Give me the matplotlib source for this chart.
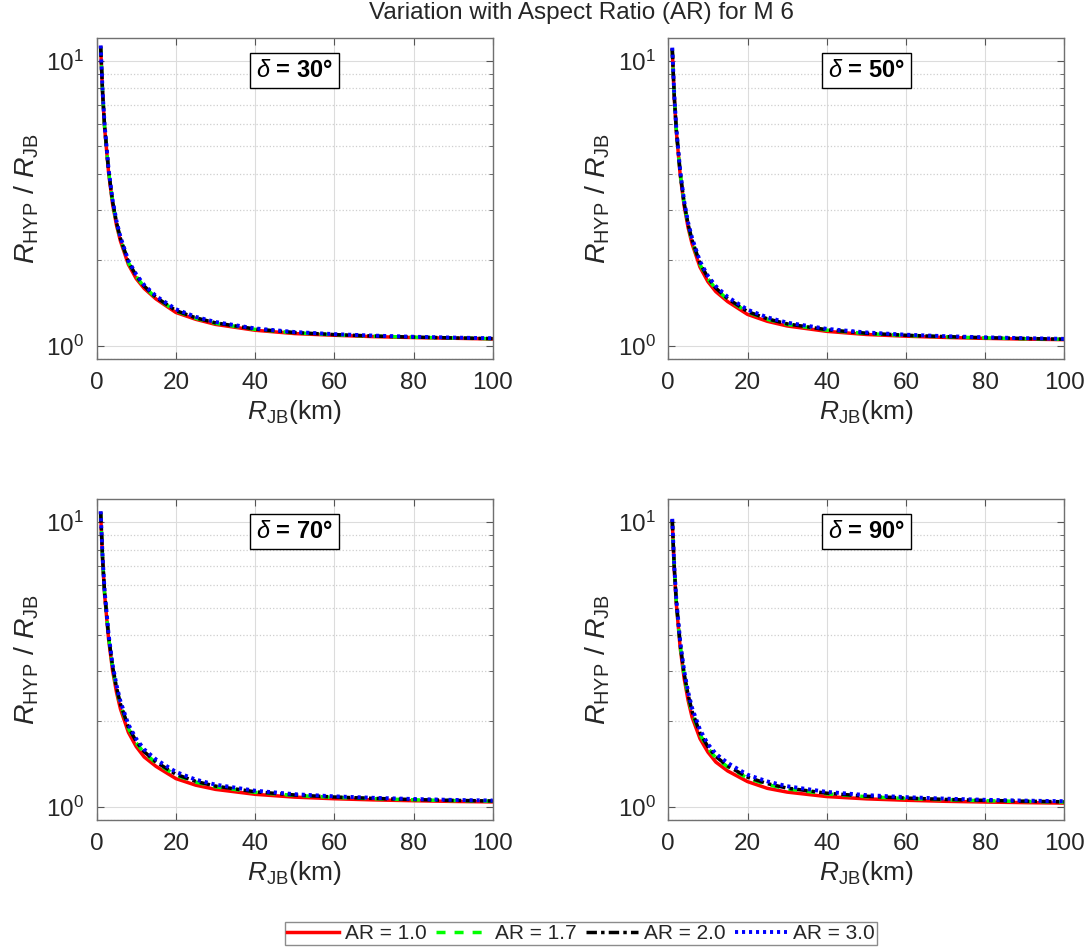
import matplotlib
matplotlib.use("Agg")
import matplotlib.pyplot as plt
from matplotlib.ticker import LogLocator, NullFormatter

plt.rcParams['font.family'] = ['Liberation Sans', 'DejaVu Sans']
plt.rcParams['mathtext.fontset'] = 'custom'
plt.rcParams['mathtext.rm'] = 'Liberation Sans'
plt.rcParams['mathtext.it'] = 'Liberation Sans:italic'
plt.rcParams['mathtext.bf'] = 'Liberation Sans:bold'

# Joyner-Boore distance (km)
rjb = [1, 1.5, 2, 3, 4, 5, 6, 8, 10, 12, 15, 20, 25, 30, 40, 50, 60, 70, 80, 90, 100]

dips = [30, 50, 70, 90]
ar_labels = ['AR = 1.0', 'AR = 1.7', 'AR = 2.0', 'AR = 3.0']

# R_HYP / R_JB, one list per aspect ratio
d30_ar10 = [11.1, 7.6, 5.8, 4.05, 3.15, 2.65, 2.33, 1.93, 1.72, 1.59, 1.46, 1.31, 1.24, 1.19, 1.135, 1.105, 1.09, 1.078, 1.07, 1.064, 1.058]
d30_ar17 = [11.15, 7.65, 5.85, 4.1, 3.2, 2.69, 2.37, 1.96, 1.75, 1.61, 1.475, 1.325, 1.25, 1.2, 1.143, 1.112, 1.094, 1.082, 1.073, 1.066, 1.06]
d30_ar20 = [11.2, 7.7, 5.9, 4.12, 3.22, 2.71, 2.38, 1.97, 1.76, 1.62, 1.48, 1.33, 1.255, 1.205, 1.146, 1.114, 1.096, 1.083, 1.074, 1.067, 1.061]
d30_ar30 = [11.3, 7.75, 5.95, 4.16, 3.26, 2.74, 2.41, 1.99, 1.78, 1.635, 1.495, 1.345, 1.265, 1.213, 1.152, 1.119, 1.1, 1.087, 1.077, 1.07, 1.064]

d50_ar10 = [10.9, 7.45, 5.7, 3.98, 3.1, 2.6, 2.28, 1.89, 1.68, 1.55, 1.43, 1.29, 1.22, 1.175, 1.125, 1.097, 1.082, 1.071, 1.063, 1.057, 1.052]
d50_ar17 = [10.95, 7.5, 5.76, 4.03, 3.15, 2.65, 2.33, 1.93, 1.72, 1.585, 1.455, 1.315, 1.24, 1.19, 1.136, 1.105, 1.088, 1.076, 1.067, 1.06, 1.055]
d50_ar20 = [11.0, 7.55, 5.8, 4.06, 3.17, 2.67, 2.35, 1.95, 1.735, 1.595, 1.465, 1.32, 1.245, 1.195, 1.14, 1.108, 1.09, 1.078, 1.069, 1.062, 1.056]
d50_ar30 = [11.1, 7.62, 5.86, 4.11, 3.22, 2.71, 2.39, 1.98, 1.76, 1.62, 1.485, 1.34, 1.26, 1.207, 1.148, 1.115, 1.095, 1.082, 1.072, 1.065, 1.059]

d70_ar10 = [10.7, 7.3, 5.55, 3.88, 3.02, 2.53, 2.21, 1.83, 1.63, 1.5, 1.39, 1.26, 1.195, 1.155, 1.11, 1.085, 1.071, 1.061, 1.054, 1.048, 1.044]
d70_ar17 = [10.75, 7.36, 5.62, 3.95, 3.09, 2.6, 2.28, 1.89, 1.68, 1.55, 1.43, 1.295, 1.225, 1.18, 1.128, 1.1, 1.083, 1.071, 1.062, 1.055, 1.05]
d70_ar20 = [10.8, 7.4, 5.66, 3.98, 3.12, 2.63, 2.3, 1.91, 1.7, 1.565, 1.44, 1.305, 1.232, 1.186, 1.133, 1.104, 1.086, 1.074, 1.064, 1.057, 1.052]
d70_ar30 = [10.9, 7.48, 5.73, 4.04, 3.17, 2.68, 2.35, 1.95, 1.735, 1.595, 1.47, 1.33, 1.25, 1.2, 1.143, 1.111, 1.092, 1.079, 1.069, 1.061, 1.056]

d90_ar10 = [10.05, 6.85, 5.2, 3.62, 2.83, 2.37, 2.07, 1.74, 1.56, 1.44, 1.34, 1.23, 1.165, 1.13, 1.09, 1.07, 1.058, 1.049, 1.043, 1.038, 1.034]
d90_ar17 = [10.1, 6.92, 5.28, 3.7, 2.9, 2.44, 2.14, 1.8, 1.61, 1.49, 1.385, 1.265, 1.2, 1.16, 1.114, 1.089, 1.073, 1.062, 1.054, 1.048, 1.043]
d90_ar20 = [10.15, 6.96, 5.32, 3.74, 2.94, 2.48, 2.17, 1.82, 1.63, 1.505, 1.395, 1.275, 1.21, 1.167, 1.12, 1.093, 1.077, 1.065, 1.057, 1.05, 1.045]
d90_ar30 = [10.25, 7.05, 5.4, 3.82, 3.01, 2.54, 2.23, 1.87, 1.665, 1.54, 1.43, 1.3, 1.232, 1.185, 1.132, 1.103, 1.085, 1.072, 1.062, 1.055, 1.05]

panel_data = [
    [d30_ar10, d30_ar17, d30_ar20, d30_ar30],
    [d50_ar10, d50_ar17, d50_ar20, d50_ar30],
    [d70_ar10, d70_ar17, d70_ar20, d70_ar30],
    [d90_ar10, d90_ar17, d90_ar20, d90_ar30],
]

# line styles for each aspect ratio (MATLAB-like)
styles = [
    dict(color='red', linestyle='-', linewidth=2.5),
    dict(color='#00ff00', linestyle=(0, (2.6, 2.6)), linewidth=2.5),
    dict(color='black', linestyle=(0, (3.0, 1.2, 1.0, 1.2)), linewidth=2.5),
    dict(color='blue', linestyle=(0, (0.8, 1.0)), linewidth=2.8),
]

fig = plt.figure(figsize=(10.88, 9.47), dpi=100)

W, H = 1088.0, 947.0
lefts = [96.7, 668.3]
tops = [38.0, 499.3]
aw, ah = 396.0, 321.0

text_col = '#262626'
for i in range(4):
    r, c = divmod(i, 2)
    ax = fig.add_axes([lefts[c] / W, 1 - (tops[r] + ah) / H, aw / W, ah / H])
    lines = []
    for j in range(4):
        ln, = ax.plot(rjb, panel_data[i][j], label=ar_labels[j], **styles[j])
        lines.append(ln)

    ax.set_yscale('log')
    ax.set_xlim(0, 100)
    ax.set_ylim(0.9, 12)
    ax.set_xticks([0, 20, 40, 60, 80, 100])
    ax.yaxis.set_major_locator(LogLocator(base=10, numticks=5))
    ax.yaxis.set_minor_locator(LogLocator(base=10, subs=range(2, 10), numticks=20))
    ax.yaxis.set_minor_formatter(NullFormatter())

    ax.grid(True, which='major', color='#dcdcdc', linewidth=0.8)
    ax.grid(True, which='minor', axis='y', color='#cfcfcf', linestyle=':', linewidth=0.9)
    ax.set_axisbelow(True)

    ax.tick_params(which='both', direction='in', top=True, right=True,
                   colors='#555555', labelcolor=text_col, labelsize=17.5)
    ax.tick_params(which='major', length=5, pad=9)
    ax.tick_params(which='minor', length=3)
    for sp in ax.spines.values():
        sp.set_color('#707070')
        sp.set_linewidth(1.0)

    ax.set_xlabel(r'$R_{\mathrm{JB}}$(km)', fontsize=19, color=text_col, labelpad=3)
    ax.set_ylabel(r'$R_{\mathrm{HYP}}$ / $R_{\mathrm{JB}}$', fontsize=20.5, color=text_col, labelpad=4)

    ax.text(0.5, 0.9, r'$\delta$ = %d°' % dips[i], transform=ax.transAxes,
            ha='center', va='center', fontsize=17, fontweight='bold',
            bbox=dict(boxstyle='square,pad=0.25', facecolor='white', edgecolor='black', linewidth=1.0))

fig.suptitle('Variation with Aspect Ratio (AR) for M 6', x=581 / W, y=1 - 13 / H,
             va='center', fontsize=17.5, color=text_col)

fig.legend(lines, ar_labels, loc='center', bbox_to_anchor=(581 / W, 1 - 933.5 / H),
           ncol=4, fontsize=15, frameon=True, fancybox=False, edgecolor='#707070',
           handlelength=2.5, columnspacing=0.45, handletextpad=0.3,
           borderpad=0.1, borderaxespad=0, labelcolor=text_col)

fig.savefig('out.png', dpi=100)
